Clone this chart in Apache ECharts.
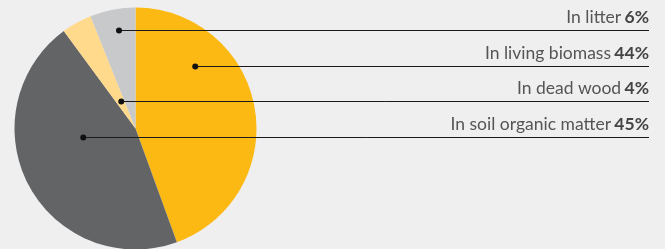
<!DOCTYPE html>
<html lang="en">
<head>
  <meta charset="UTF-8">
  <title>Carbon stock pie</title>
  <style>
    html, body { margin: 0; padding: 0; background: #eeefee; }
    #chart { width: 665px; height: 249px; }
  </style>
</head>
<body>
  <div id="chart"></div>
  <script src="https://cdn.jsdelivr.net/npm/echarts@6/dist/echarts.min.js"></script>
  <script>
    // data, clockwise from 12 o'clock
    const categories = ['In living biomass', 'In soil organic matter', 'In dead wood', 'In litter'];
    const shares = [44, 45, 4, 6];
    const colors = ['#fdb913', '#636466', '#ffd98c', '#c8c9cb'];

    // where each callout dot sits: angle (deg, clockwise from top) and distance from centre
    const anchors = [[43.7, 86.5], [260.8, 52.9], [332.4, 30.7], [350.5, 99.9]];

    const cx = 135.5, cy = 128.5, R = 121;
    const lineEnd = 649;

    const dots = anchors.map(([a, r]) => {
      const t = a * Math.PI / 180;
      return [cx + r * Math.sin(t), Math.round(cy - r * Math.cos(t)) + 0.5];
    });

    // callout lines + dots drawn on top of the pie
    let callouts = [];
    dots.forEach(d => {
      callouts.push({
        type: 'line', z: 100,
        shape: { x1: d[0], y1: d[1], x2: lineEnd, y2: d[1] },
        style: { stroke: '#1a1a1a', lineWidth: 1 }
      });
      callouts.push({
        type: 'circle', z: 101,
        shape: { cx: d[0], cy: d[1], r: 3 },
        style: { fill: '#111' }
      });
    });

    let chart = echarts.init(document.getElementById('chart'));
    chart.setOption({
      backgroundColor: '#eeefee',
      animation: false,
      graphic: callouts,
      series: [{
        type: 'pie',
        center: [cx, cy],
        radius: R,
        startAngle: 90,
        clockwise: true,
        avoidLabelOverlap: false,
        emphasis: { disabled: true },
        itemStyle: { borderWidth: 0 },
        label: {
          show: true,
          position: 'outside',
          formatter: '{n|{b}} {v|{c}%}',
          rich: {
            n: { fontFamily: 'Lato', fontSize: 17.5, color: '#555' },
            v: { fontFamily: 'Lato', fontSize: 17.5, fontWeight: 'bold', color: '#444' }
          }
        },
        labelLine: { show: false },
        labelLayout: (params) => {
          const d = dots[params.dataIndex];
          return {
            x: lineEnd,
            y: d[1] - 4,
            align: 'right',
            verticalAlign: 'bottom'
          };
        },
        data: categories.map((c, i) => ({
          name: c,
          value: shares[i],
          itemStyle: { color: colors[i] }
        }))
      }]
    });
  </script>
</body>
</html>
